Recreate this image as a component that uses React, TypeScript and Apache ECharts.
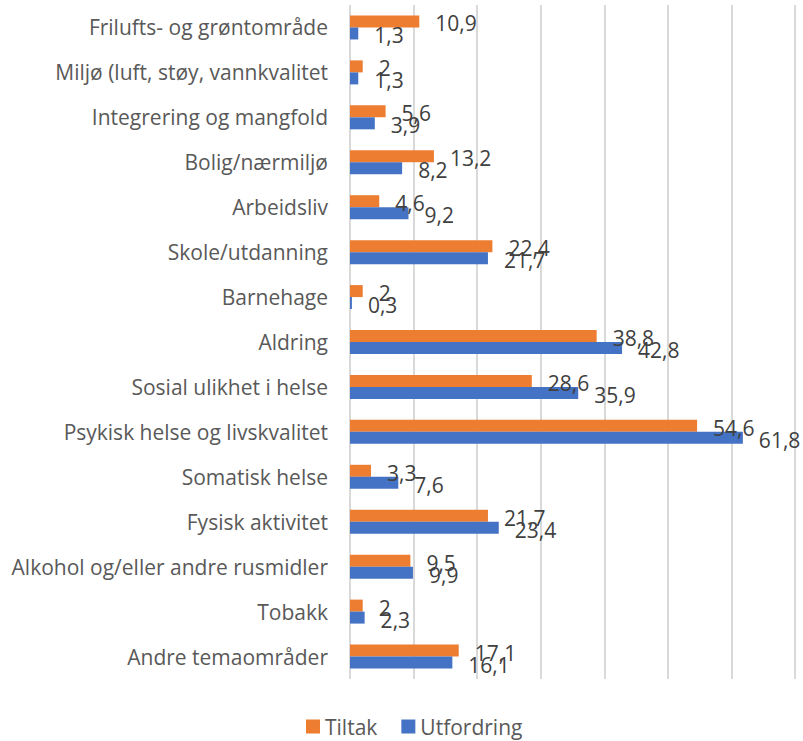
import React, { useEffect, useRef } from "react";
import * as echarts from "echarts";

const categories = [
  "Frilufts- og grøntområde",
  "Miljø (luft, støy, vannkvalitet",
  "Integrering og mangfold",
  "Bolig/nærmiljø",
  "Arbeidsliv",
  "Skole/utdanning",
  "Barnehage",
  "Aldring",
  "Sosial ulikhet i helse",
  "Psykisk helse og livskvalitet",
  "Somatisk helse",
  "Fysisk aktivitet",
  "Alkohol og/eller andre rusmidler",
  "Tobakk",
  "Andre temaområder",
];
const tiltak = [10.9, 2, 5.6, 13.2, 4.6, 22.4, 2, 38.8, 28.6, 54.6, 3.3, 21.7, 9.5, 2, 17.1];
const utfordring = [1.3, 1.3, 3.9, 8.2, 9.2, 21.7, 0.3, 42.8, 35.9, 61.8, 7.6, 23.4, 9.9, 2.3, 16.1];
const seriesNames = ["Tiltak", "Utfordring"];

const FONT = "'Open Sans', sans-serif";

export default function App() {
  const ref = useRef<HTMLDivElement>(null);
  useEffect(() => {
    if (!ref.current) return;
    const chart = echarts.init(ref.current, undefined, { renderer: "svg" });
    const label = {
      show: true,
      position: "right",
      distance: 16,
      offset: [0, 2],
      color: "#404040",
      fontFamily: FONT,
      fontSize: 21,
      formatter: (p: any) => String(p.value).replace(".", ","),
    };
    chart.setOption({
      animation: false,
      grid: { left: 350, right: 8, top: 5, bottom: 62, containLabel: false },
      legend: {
        top: 716,
        left: 306,
        padding: 0,
        itemWidth: 14,
        itemHeight: 14,
        itemGap: 24,
        icon: "rect",
        textStyle: { color: "#595959", fontFamily: FONT, fontSize: 21 },
        data: seriesNames,
      },
      xAxis: {
        type: "value",
        min: 0,
        max: 70,
        interval: 10,
        axisLabel: { show: false },
        axisLine: { show: false },
        axisTick: { show: false },
        splitLine: { lineStyle: { color: "#d9d9d9", width: 2 } },
      },
      yAxis: {
        type: "category",
        inverse: true,
        data: categories,
        axisTick: { show: false },
        axisLine: { show: false },
        axisLabel: { color: "#595959", fontFamily: FONT, fontSize: 21, margin: 22 },
      },
      series: [
        {
          name: seriesNames[0],
          type: "bar",
          data: tiltak,
          barWidth: 12,
          barGap: "0%",
          itemStyle: { color: "#ED7D31" },
          label,
        },
        {
          name: seriesNames[1],
          type: "bar",
          data: utfordring,
          barWidth: 12,
          barGap: "0%",
          itemStyle: { color: "#4472C4" },
          label,
        },
      ],
    });
    return () => chart.dispose();
  }, []);
  return (
    <div
      ref={ref}
      style={{ position: "absolute", left: 0, top: 0, width: 803, height: 741 }}
    />
  );
}
